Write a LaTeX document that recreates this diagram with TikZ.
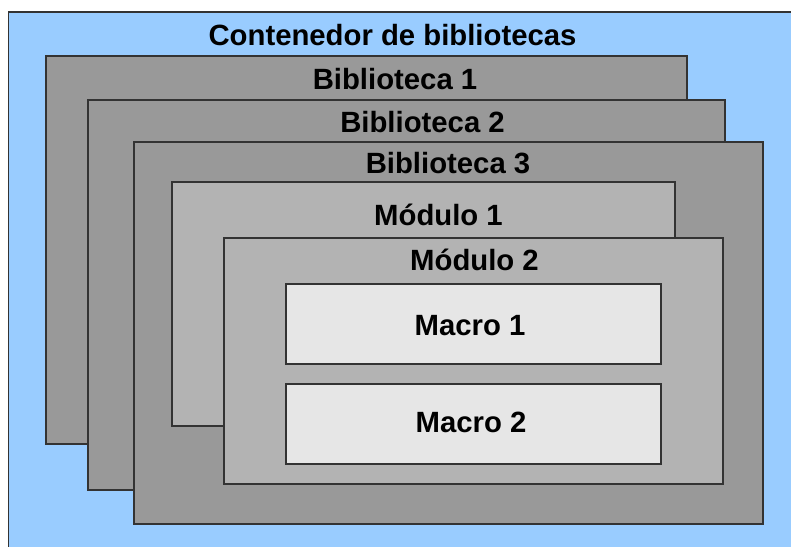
\documentclass[tikz,border=0pt]{standalone}
\usepackage{fontspec}
\setmainfont{Liberation Sans}
\usepackage{xcolor}
\usepackage{tikz}
\usetikzlibrary{positioning}

\definecolor{contblue}{HTML}{99CCFF}
\definecolor{bibgray}{HTML}{999999}
\definecolor{modgray}{HTML}{B3B3B3}
\definecolor{macgray}{HTML}{E6E6E6}
\definecolor{edgegray}{HTML}{333333}

\begin{document}
\begin{tikzpicture}[x=1pt, y=-1pt,
          box/.style = {draw = edgegray, line width = 1.3pt},
          label/.style = {font = \fontsize{29.3}{35}\selectfont\bfseries,
              anchor = base, inner sep = 0pt
          }
          ]
          \useasboundingbox (0,0) rectangle (791,546);
          \clip (0,0) rectangle (791,546);

          % Boxes
          \draw[box, fill = contblue] (8.5,12) rectangle (800,560);
          \draw[box, fill = bibgray] (46,56) rectangle (687,444);
          \draw[box, fill = bibgray] (88,100) rectangle (725,490);
          \draw[box, fill = bibgray] (134,142) rectangle (763,524);
          \draw[box, fill = modgray] (172,182) rectangle (675,426);
          \draw[box, fill = modgray] (224,238) rectangle (723,484);
          \draw[box, fill = macgray] (286,284) rectangle (661,364);
          \draw[box, fill = macgray] (286,384) rectangle (661,464);

          % Labels
          \node (cont) [label] at (392.5,45) {Contenedor de bibliotecas};
          \node (bib1) [label] at (395,89) {Biblioteca 1};
          \node (bib2) [label] at (422.5,132) {Biblioteca 2};
          \node (bib3) [label] at (448,173) {Biblioteca 3};
          \node (mod1) [label] at (438.5,225) {Módulo 1};
          \node (mod2) [label] at (474.5,270) {Módulo 2};
          \node (mac1) [label] at (470,335) {Macro 1};
          \node (mac2) [label] at (471,432) {Macro 2};

\end{tikzpicture}
\end{document}
